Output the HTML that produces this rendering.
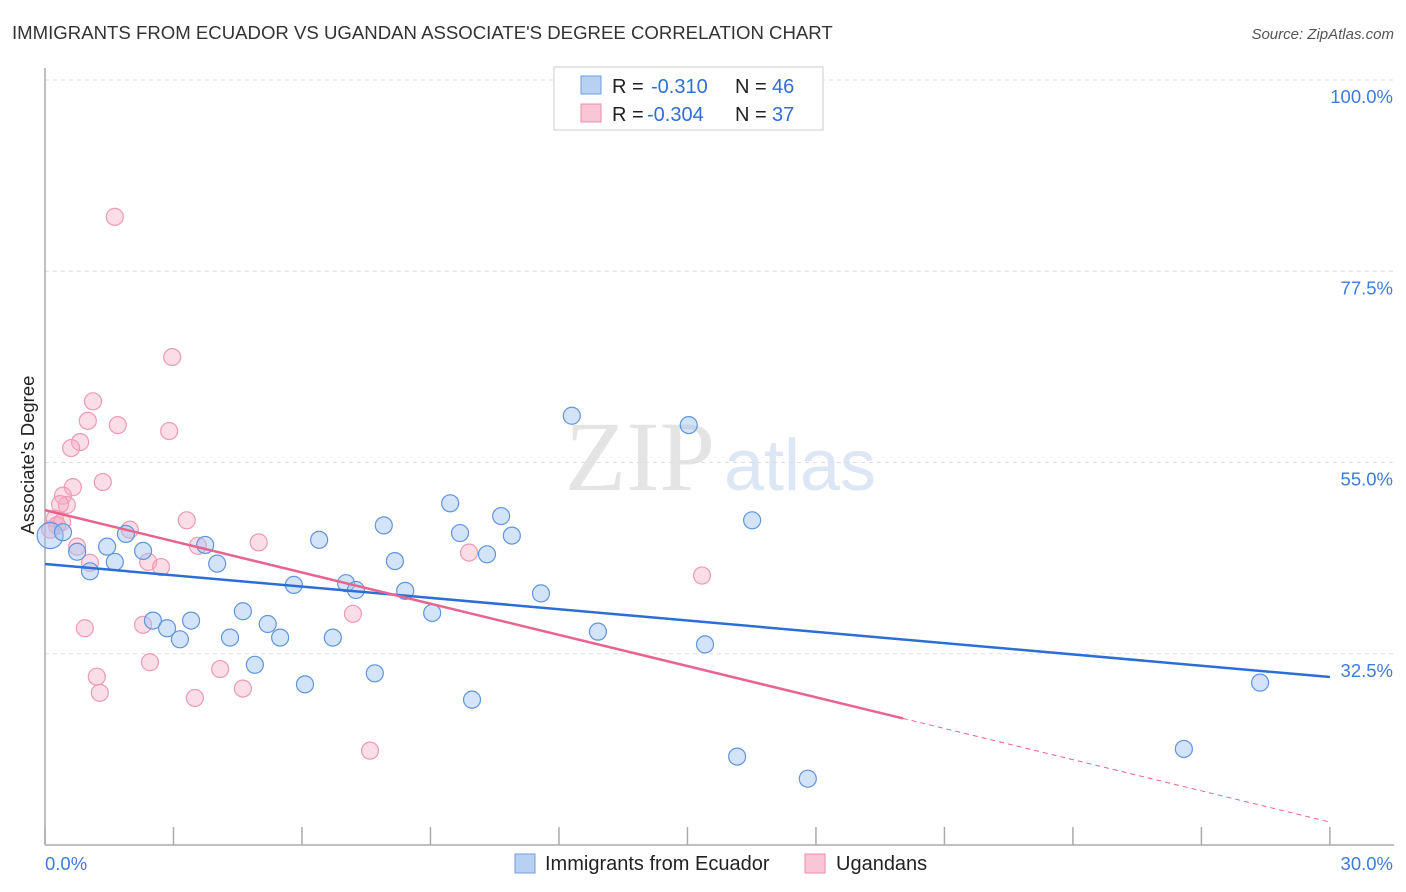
<!DOCTYPE html>
<html><head><meta charset="utf-8">
<style>
body{margin:0;background:#fff;font-family:"Liberation Sans",sans-serif;}
#wrap{position:relative;width:1406px;height:892px;overflow:hidden}
</style></head>
<body>
<div id="wrap">
<svg id="svg" width="1406" height="892" xmlns="http://www.w3.org/2000/svg">
<text x="12" y="39" font-size="18.6" fill="#333">IMMIGRANTS FROM ECUADOR VS UGANDAN ASSOCIATE'S DEGREE CORRELATION CHART</text>
<text x="1394" y="39" font-size="15" fill="#555" font-style="italic" text-anchor="end">Source: ZipAtlas.com</text>
<text x="640" y="490" font-size="100" fill="#e4e4e4" font-family="Liberation Serif,serif" text-anchor="middle">ZIP</text>
<text x="800" y="490" font-size="72" fill="#dce6f4" text-anchor="middle">atlas</text>
<text transform="translate(34,455) rotate(-90)" font-size="18.5" fill="#222" text-anchor="middle">Associate's Degree</text>
<g id="grid"></g><g id="axes"></g><g id="pts"></g><g id="lines"></g>
<g>
<rect x="554" y="67" width="269" height="63" fill="#fff" stroke="#ccc"/>
<rect x="581" y="76" width="20" height="18" fill="#b8d1f3" stroke="#6f9ee0"/>
<rect x="581" y="104" width="20" height="18" fill="#f9c6d5" stroke="#eb8fab"/>
<text x="612" y="93" font-size="20" fill="#222">R =</text>
<text x="651" y="93" font-size="20" fill="#2f6fd6">-0.310</text>
<text x="735" y="93" font-size="20" fill="#222">N =</text>
<text x="772" y="93" font-size="20" fill="#2f6fd6">46</text>
<text x="612" y="121" font-size="20" fill="#222">R =</text>
<text x="647" y="121" font-size="20" fill="#2f6fd6">-0.304</text>
<text x="735" y="121" font-size="20" fill="#222">N =</text>
<text x="772" y="121" font-size="20" fill="#2f6fd6">37</text>
</g>
<g>
<rect x="515" y="854" width="20" height="19" fill="#b8d1f3" stroke="#6f9ee0"/>
<text x="545" y="870" font-size="20" fill="#222">Immigrants from Ecuador</text>
<rect x="805" y="854" width="20" height="19" fill="#f9c6d5" stroke="#eb8fab"/>
<text x="836" y="870" font-size="20" fill="#222">Ugandans</text>
</g>
</svg>
</div>
<script>
const yTicks=[100,77.5,55,32.5];
const yTickLabels=["100.0%","77.5%","55.0%","32.5%"];
const xTicks=[0,3,6,9,12,15,18,21,24,27,30];
const blueX=[0.12,0.42,0.75,1.05,1.45,1.63,1.89,2.29,2.52,2.85,3.15,3.41,3.74,4.02,4.32,4.62,4.9,5.2,5.49,5.81,6.07,6.4,6.72,7.03,7.26,7.7,7.91,8.17,8.41,9.04,9.46,9.69,9.97,10.32,10.65,10.9,11.58,12.3,12.91,15.03,15.41,16.16,16.51,17.81,26.59,28.37];
const blueY=[46.4,46.8,44.5,42.2,45.1,43.3,46.6,44.6,36.4,35.5,34.2,36.4,45.3,43.1,34.4,37.5,31.2,36.0,34.4,40.6,28.9,45.9,34.4,40.8,40.0,30.2,47.6,43.4,39.9,37.3,50.2,46.7,27.1,44.2,48.7,46.4,39.6,60.5,35.1,59.4,33.6,20.4,48.2,17.8,21.3,29.1];
const pinkX=[1.63,2.97,1.12,1.0,1.7,2.9,0.82,0.61,1.35,0.65,0.42,0.51,0.35,0.23,0.28,1.98,3.31,3.57,4.99,0.75,1.05,2.41,2.71,9.9,15.34,0.93,2.29,7.19,2.45,1.21,4.09,1.28,3.5,4.62,7.59,0.12,0.4];
const pinkY=[83.9,67.4,62.2,59.9,59.4,58.7,57.4,56.7,52.7,52.1,51.1,50.0,50.1,48.4,47.6,47.1,48.2,45.2,45.6,45.1,43.2,43.3,42.7,44.4,41.7,35.5,35.9,37.2,31.5,29.8,30.7,27.9,27.3,28.4,21.1,47.1,48.0];
const blueTrend=[43.06,29.76];
const pinkTrend=[49.4,12.7];
const pinkSolidEnd=20.03;
const X=v=>45+v*42.83, Y=v=>930-v*8.5;
const NS="http://www.w3.org/2000/svg";
function mk(tag,attrs,parent){const e=document.createElementNS(NS,tag);for(const k in attrs)e.setAttribute(k,attrs[k]);document.getElementById(parent).appendChild(e);return e;}
yTicks.forEach((t,i)=>{
 const l=mk('line',{x1:45,x2:1394,y1:Y(t),y2:Y(t),stroke:'#ddd','stroke-dasharray':'4,4'},'grid');
 
 
 const tx=mk('text',{x:1393,y:Y(t)+23,'font-size':18.5,fill:'#3f7bd9','text-anchor':'end'},'grid');
 tx.textContent=yTickLabels[i];
 
 
});
const ya=mk('line',{x1:45,x2:45,y1:68,y2:845,stroke:'#aaa','stroke-width':1.5},'axes');


const xa=mk('line',{x1:45,x2:1394,y1:845,y2:845,stroke:'#aaa','stroke-width':1.5},'axes');


xTicks.forEach(t=>{
 const l=mk('line',{x1:X(t),x2:X(t),y1:827,y2:845,stroke:'#aaa','stroke-width':1.5},'axes');
 
 
});
[["0.0%",45,'start'],["30.0%",1393,'end']].forEach(a=>{
 const t=mk('text',{x:a[1],y:870,'font-size':18.5,fill:'#3f7bd9','text-anchor':a[2]},'axes');
 t.textContent=a[0];
 
 
});
pinkX.forEach((x,i)=>{
 const c=mk('circle',{cx:X(x),cy:Y(pinkY[i]),r:8.5,fill:'rgba(246,170,195,0.4)',stroke:'#ee9ab4','stroke-width':1.2},'pts');
 
 
});
blueX.forEach((x,i)=>{
 const c=mk('circle',{cx:X(x),cy:Y(blueY[i]),r:i==0?13:8.5,fill:'rgba(160,195,240,0.45)',stroke:'#5e95e0','stroke-width':1.2},'pts');
 
 
});
const bl=mk('line',{x1:X(0),y1:Y(blueTrend[0]),x2:X(30),y2:Y(blueTrend[1]),stroke:'#2b6fd6','stroke-width':2.5},'lines');


const pv=x=>pinkTrend[0]+(pinkTrend[1]-pinkTrend[0])*x/30;
const pl=mk('line',{x1:X(0),y1:Y(pv(0)),x2:X(pinkSolidEnd),y2:Y(pv(pinkSolidEnd)),stroke:'#e8648f','stroke-width':2.5},'lines');


const pd=mk('line',{x1:X(pinkSolidEnd),y1:Y(pv(pinkSolidEnd)),x2:X(30),y2:Y(pv(30)),stroke:'#e8648f','stroke-width':1,'stroke-dasharray':'5,4'},'lines');


</script>
</body></html>
